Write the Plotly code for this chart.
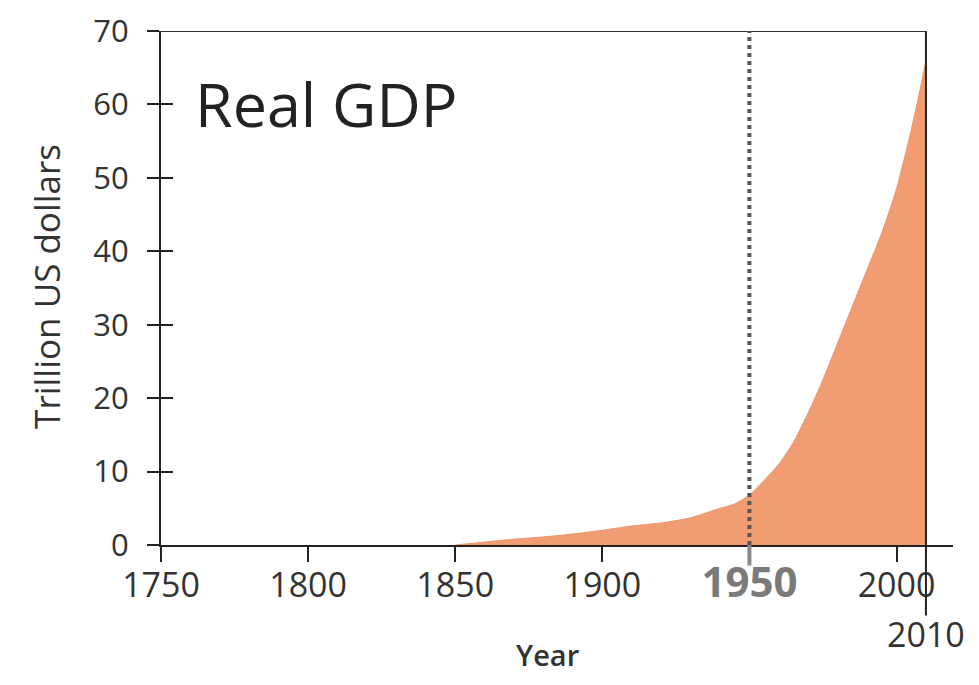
import plotly.graph_objects as go

# ---- data ----
years = [1850, 1860, 1870, 1880, 1890, 1900, 1910, 1920, 1930, 1940, 1945,
         1950, 1955, 1960, 1965, 1970, 1975, 1980, 1985, 1990, 1995, 2000,
         2005, 2008, 2010]
gdp = [0.0, 0.4, 0.8, 1.1, 1.5, 2.0, 2.6, 3.0, 3.7, 5.0, 5.6,
       6.8, 8.8, 11.0, 14.0, 18.0, 22.5, 27.5, 32.5, 37.5, 42.5, 48.5,
       56.5, 62.0, 66.0]

x_tick_vals = [1750, 1800, 1850, 1900, 1950, 2000]
x_tick_text = ["1750", "1800", "1850", "1900",
               "<b><span style='color:#7a7a7a;font-size:42px'>1950</span></b>", "2000"]
y_tick_vals = [0, 10, 20, 30, 40, 50, 60, 70]
marker_year = 1950
end_year = 2010
x_start = 1750
y_max = 70

FONT = "Open Sans"
TXT = "#333333"

fig = go.Figure()
fig.add_trace(go.Scatter(
    x=years, y=gdp, mode="lines", fill="tozeroy",
    line=dict(color="#F0946A", width=1, shape="spline", smoothing=0.6),
    fillcolor="#F29C73", hoverinfo="x+y", showlegend=False,
))

# page body has an 8px margin, so the figure is sized/offset to compensate
fig.update_layout(
    width=971, height=677,
    margin=dict(l=153, r=26, t=23, b=140, autoexpand=False),
    paper_bgcolor="white", plot_bgcolor="white",
    font=dict(family=FONT, color=TXT),
    xaxis=dict(
        range=[x_start, 2019.2], showgrid=False, zeroline=False, automargin=False,
        showline=True, linecolor="#222222", linewidth=2,
        ticks="outside", ticklen=15, tickwidth=2, tickcolor="#222222",
        tickvals=x_tick_vals, ticktext=x_tick_text, ticklabelstandoff=-6,
        tickfont=dict(family=FONT, size=34, color=TXT),
    ),
    yaxis=dict(
        range=[0, y_max], showgrid=False, zeroline=False, automargin=False,
        showline=True, linecolor="#222222", linewidth=2,
        ticks="outside", ticklen=12, tickwidth=2, tickcolor="#222222",
        tickvals=y_tick_vals, ticklabelstandoff=12,
        tickfont=dict(family=FONT, size=31, color=TXT),
    ),
    yaxis2=dict(
        range=[0, y_max], overlaying="y", side="left", anchor="x", automargin=False,
        showgrid=False, zeroline=False, showline=False,
        ticks="inside", ticklen=12, tickwidth=2, tickcolor="#222222",
        tickvals=y_tick_vals, showticklabels=False,
    ),
)

# invisible trace so yaxis2 is drawn
fig.add_trace(go.Scatter(x=[x_start], y=[0], yaxis="y2", mode="markers",
                         marker=dict(opacity=0), showlegend=False, hoverinfo="skip"))

# top border and right border (at end year, extending down to the 2010 label)
fig.add_shape(type="line", xref="x", yref="y", x0=x_start, x1=end_year,
              y0=y_max, y1=y_max, line=dict(color="#333333", width=2))
fig.add_shape(type="line", xref="x", yref="paper", x0=end_year, x1=end_year,
              y0=-0.137, y1=1, line=dict(color="#222222", width=2))

# 1950 marker
fig.add_shape(type="line", xref="x", yref="paper", x0=marker_year, x1=marker_year,
              y0=0, y1=1, line=dict(color="#555555", width=4, dash="dot"))
fig.add_shape(type="line", xref="x", yref="paper", x0=marker_year, x1=marker_year,
              y0=-0.04, y1=0, line=dict(color="#8a8a8a", width=4))

# texts
fig.add_annotation(x=end_year, xref="x", y=-0.173, yref="paper", text="2010",
                   showarrow=False, font=dict(family=FONT, size=34, color=TXT),
                   xanchor="center", yanchor="middle")
fig.add_annotation(x=0.4886, xref="paper", y=-0.214, yref="paper", text="Year",
                   showarrow=False, font=dict(family=FONT, size=29, color=TXT, weight=600),
                   xanchor="center", yanchor="middle")
fig.add_annotation(x=-0.144, xref="paper", y=0.504, yref="paper",
                   text="Trillion US dollars", textangle=-90,
                   showarrow=False, font=dict(family=FONT, size=35, color=TXT),
                   xanchor="center", yanchor="middle")
fig.add_annotation(x=1761.0, xref="x", y=0.858, yref="paper", text="Real GDP",
                   showarrow=False, font=dict(family=FONT, size=61, color="#222222"),
                   xanchor="left", yanchor="middle")

fig.write_html("out.html")
